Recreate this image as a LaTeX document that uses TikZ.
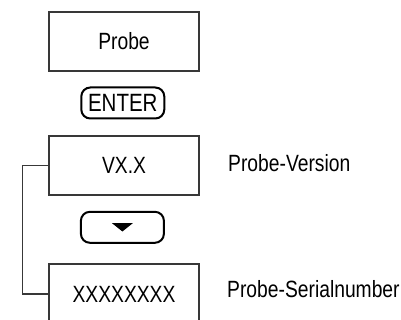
\documentclass[tikz,border=0pt]{standalone}
\usepackage{fontspec}
\setmainfont[FakeStretch=0.82]{Liberation Sans}
\begin{document}
\begin{tikzpicture}[x=1pt,y=-1pt,
  box/.style={draw=black!78, line width=1.2pt, minimum width=150pt, minimum height=59pt, inner sep=0pt, font=\fontsize{23.5}{28}\selectfont},
  keybox/.style={draw=black, line width=2pt, rounded corners=9pt, minimum width=83pt, minimum height=31pt, inner sep=0pt, font=\fontsize{25}{30}\selectfont},
  lbl/.style={anchor=base west, inner sep=0pt, font=\fontsize{23.5}{28}\selectfont},
  link/.style={draw=black!78, line width=1.2pt}]
\useasboundingbox (0,0) rectangle (401,320);
\clip (0,0) rectangle (401,320);
\node[box] (probe) at (124,41.5) {Probe};
\node[keybox] (enter) at (122.8,103) {ENTER};
\node[box] (ver) at (124,165.5) {VX.X};
\node[keybox] (down) at (122.4,227.3) {};
\fill ([xshift=-10.5pt,yshift=4.2pt]down.center) -- ([xshift=10.5pt,yshift=4.2pt]down.center) -- ([yshift=-4.2pt]down.center) -- cycle;
\node[box, minimum height=60pt] (ser) at (124,294) {XXXXXXXX};
\node[lbl] (lver) at (228,172) {Probe-Version};
\node[lbl] (lser) at (227,297) {Probe-Serialnumber};
\draw[link] (ver.west) -- ++(-26,0) |- (ser.west);
\end{tikzpicture}
\end{document}
